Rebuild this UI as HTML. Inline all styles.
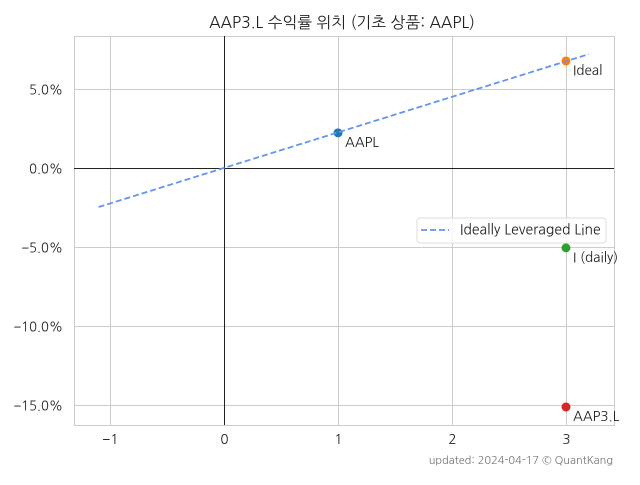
<!DOCTYPE html>
<html><head><meta charset="utf-8"><style>
body{margin:0;background:#fff;}
svg text{font-family:"NanumGothic","Liberation Sans","Noto Sans CJK KR",sans-serif;fill:#222;}
</style></head><body>
<svg id="chart" width="640" height="480" xmlns="http://www.w3.org/2000/svg">
<text x="342" y="28" text-anchor="middle" font-size="15.8">AAP3.L 수익률 위치 (기초 상품: AAPL)</text>
<g id="grid"></g><g id="marks"></g>
<text x="613" y="464" text-anchor="end" font-size="11" style="fill:#777">updated: 2024-04-17 © QuantKang</text>
</svg>
<script>
const xTicks=[-1,0,1,2,3];
const yTicks=[5,0,-5,-10,-15];
const pointNames=["AAPL","Ideal","I (daily)","AAP3.L"];
const pointX=[1,3,3,3];
const pointY=[2.22,6.77,-5.06,-15.13];
const pointColors=["#1f77b4","#ff7f0e","#2ca02c","#d62728"];
const lineX=[-1.1,3.2];
const lineSlope=[2.25];
const L=74,R=614,T=36,B=425;
const xmin=-1.316,xmax=3.421,ymin=-16.27,ymax=8.35;
const sx=v=>L+(v-xmin)/(xmax-xmin)*(R-L);
const sy=v=>B-(v-ymin)/(ymax-ymin)*(B-T);
const NS="http://www.w3.org/2000/svg";
function mk(tag,attrs,parent,txt){const e=document.createElementNS(NS,tag);for(const k in attrs)e.setAttribute(k,attrs[k]);if(txt!==undefined)e.textContent=txt;parent.appendChild(e);return e;}
const g=document.getElementById('grid'),m=document.getElementById('marks');
xTicks.forEach(t=>{const x=Math.round(sx(t))+0.5;
 const l=mk('line',{x1:x,x2:x,y1:T,y2:B,stroke:'#ccc','stroke-width':1},g);
 
 
 const tx=mk('text',{x:x,y:B+19,'text-anchor':'middle','font-size':13.5},g,t<0?'\u2212'+Math.abs(t):String(t));
 
 });
yTicks.forEach(t=>{const y=Math.round(sy(t))+0.5;
 const l=mk('line',{x1:L,x2:R,y1:y,y2:y,stroke:'#ccc','stroke-width':1},g);
 
 
 const s=(t<0?'\u2212'+Math.abs(t).toFixed(1):t.toFixed(1))+'%';
 const tx=mk('text',{x:L-11,y:y+5,'text-anchor':'end','font-size':13},g,s);
 
 });
const fr=mk('rect',{x:L+0.5,y:T+0.5,width:R-L,height:B-T,fill:'none',stroke:'#ccc'},g);


const zx=Math.round(sx(0))+0.5,zy=Math.round(sy(0))+0.5;
const ax=mk('line',{x1:zx,x2:zx,y1:T,y2:B,stroke:'#222','stroke-width':1},g);


const ay=mk('line',{x1:L,x2:R,y1:zy,y2:zy,stroke:'#222','stroke-width':1},g);


pointX.forEach((v,i)=>{
 const c=mk('circle',{cx:sx(v),cy:sy(pointY[i]),r:4.5,fill:pointColors[i]},m);
 
 
 const t=mk('text',{x:sx(v)+7,y:sy(pointY[i])+14,'font-size':13.5},m,pointNames[i]);
 
 });
const ln=mk('line',{x1:sx(lineX[0]),y1:sy(lineX[0]*lineSlope[0]),x2:sx(lineX[1]),y2:sy(lineX[1]*lineSlope[0]),stroke:'#6495ed','stroke-width':1.8,'stroke-dasharray':'6,3'},m);


const lg=mk('g',{},m);


mk('rect',{x:417,y:218,width:189,height:25,rx:3,fill:'#fff','fill-opacity':0.85,stroke:'#ddd'},lg);
mk('line',{x1:421,x2:449,y1:230,y2:230,stroke:'#6495ed','stroke-width':1.8,'stroke-dasharray':'6,3'},lg);
const lt=mk('text',{x:460,y:234.5,'font-size':14},lg,'Ideally Leveraged Line');


</script>
</body></html>
